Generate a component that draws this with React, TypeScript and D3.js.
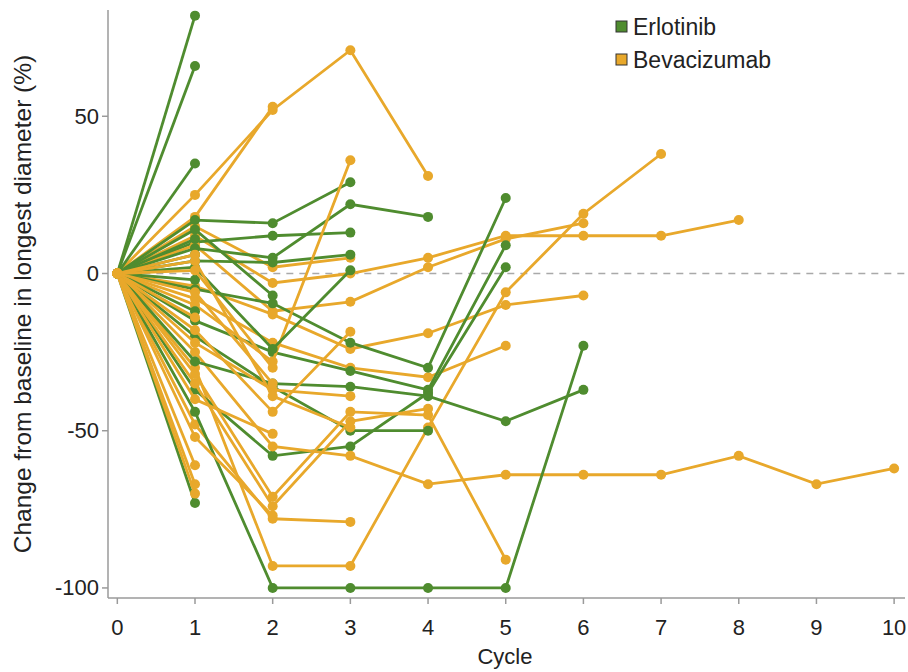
import React from "react";
import * as d3 from "d3";

// ---- data: change from baseline (%) by cycle, index = cycle number ----
const erlotinib: number[][] = [
  [0, 82],
  [0, 66],
  [0, 35],
  [0, 17, 16, 29],
  [0, 10, 12, 13],
  [0, 8, 5, 22, 18],
  [0, 4, 3.5, 6],
  [0, -5, -9.5, -22, -30, 24],
  [0, -15, -25, -31, -37, 9],
  [0, -37, -58, -55, -38, 2],
  [0, -28, -35, -36, -39, -47, -37],
  [0, -20, -36, -50, -50],
  [0, -44, -100, -100, -100, -100, -23],
  [0, -73],
  [0, 14, -7],
  [0, 2, -24, 1],
  [0, -12],
  [0, -2],
  [0, 6],
  [0, 11],
];

const bevacizumab: number[][] = [
  [0, 25, 52, 71, 31],
  [0, 18, 53],
  [0, 15, 2, 5],
  [0, 12, -3, 0, 5, 12, 12, 12, 17],
  [0, 9, -12, -9, 2, 11, 16],
  [0, -4, -13, -24, -19, -10, -7],
  [0, -8, -22, -30, -33, -23],
  [0, -30, -93, -93, -49, -6, 19, 38],
  [0, -48, -78, -79],
  [0, -25, -55, -58, -67, -64, -64, -64, -58, -67, -62],
  [0, -10, -28, 36],
  [0, -22, -37, -39],
  [0, -32, -71, -44, -45, -91],
  [0, -35, -74, -47, -43],
  [0, -18, -44, -18.5],
  [0, -61],
  [0, -67],
  [0, -70],
  [0, -52, -77],
  [0, -40, -51],
  [0, 4, -39, -49],
  [0, 6],
  [0, -14],
  [0, 1, -30],
  [0, -6, -35],
];

const xTicks = [0, 1, 2, 3, 4, 5, 6, 7, 8, 9, 10];
const yTicks = [50, 0, -50, -100];
const legendItems = ["Erlotinib", "Bevacizumab"];

const GREEN = "#4f8c2f";
const YELLOW = "#e8a82b";
const FONT = "'Liberation Sans', Arial, sans-serif";

export default function App() {
  const W = 908;
  const H = 672;
  const x = d3.scaleLinear().domain([-0.12, 10.14]).range([108, 905]);
  const y = d3.scaleLinear().domain([-103.2, 83.8]).range([598, 10]);
  const line = d3
    .line<number>()
    .x((_, i) => x(i))
    .y((d) => y(d));

  const all: { vals: number[]; color: string }[] = [];
  const n = Math.max(erlotinib.length, bevacizumab.length);
  for (let i = 0; i < n; i++) {
    if (erlotinib[i]) all.push({ vals: erlotinib[i], color: GREEN });
    if (bevacizumab[i]) all.push({ vals: bevacizumab[i], color: YELLOW });
  }

  const tickFont = 22;

  return (
    <div style={{ position: "fixed", left: 0, top: 0, background: "#fff" }}>
      <svg width={W} height={H} style={{ display: "block", fontFamily: FONT }}>
        <rect width={W} height={H} fill="#fff" />
        <line
          x1={x(0)}
          x2={905}
          y1={y(0)}
          y2={y(0)}
          stroke="#a9a9a9"
          strokeWidth={1.5}
          strokeDasharray="7,6"
        />
        {all.map((s, k) => (
          <g key={k}>
            <path d={line(s.vals) || ""} fill="none" stroke={s.color} strokeWidth={2.8} />
            {s.vals.map((v, i) => (
              <circle key={i} cx={x(i)} cy={y(v)} r={5} fill={s.color} />
            ))}
          </g>
        ))}
        <line x1={108} x2={108} y1={10} y2={598} stroke="#9a9a9a" strokeWidth={1.5} />
        <line x1={108} x2={905} y1={598} y2={598} stroke="#9a9a9a" strokeWidth={1.5} />
        {yTicks.map((t) => (
          <g key={t}>
            <line x1={102} x2={108} y1={y(t)} y2={y(t)} stroke="#9a9a9a" strokeWidth={1.5} />
            <text
              x={99}
              y={y(t)}
              textAnchor="end"
              dominantBaseline="central"
              fontSize={tickFont}
              fill="#222"
            >
              {t}
            </text>
          </g>
        ))}
        {xTicks.map((t) => (
          <g key={t}>
            <line x1={x(t)} x2={x(t)} y1={598} y2={604} stroke="#9a9a9a" strokeWidth={1.5} />
            <text
              x={x(t)}
              y={627}
              textAnchor="middle"
              dominantBaseline="central"
              fontSize={tickFont}
              fill="#222"
            >
              {t}
            </text>
          </g>
        ))}
        <text x={505} y={656} textAnchor="middle" dominantBaseline="central" fontSize={22} fill="#222">
          Cycle
        </text>
        <text
          transform={`translate(22,304) rotate(-90)`}
          textAnchor="middle"
          dominantBaseline="central"
          fontSize={24.5}
          fill="#222"
        >
          Change from baseline in longest diameter (%)
        </text>
        {legendItems.map((name, i) => (
          <g key={name} transform={`translate(616,${21 + i * 33})`}>
            <rect x={0} y={0} width={11} height={11} fill={i === 0 ? GREEN : YELLOW} stroke="#333" strokeWidth={1} />
            <text x={17} y={6} dominantBaseline="central" fontSize={23} fill="#222">
              {name}
            </text>
          </g>
        ))}
      </svg>
    </div>
  );
}
